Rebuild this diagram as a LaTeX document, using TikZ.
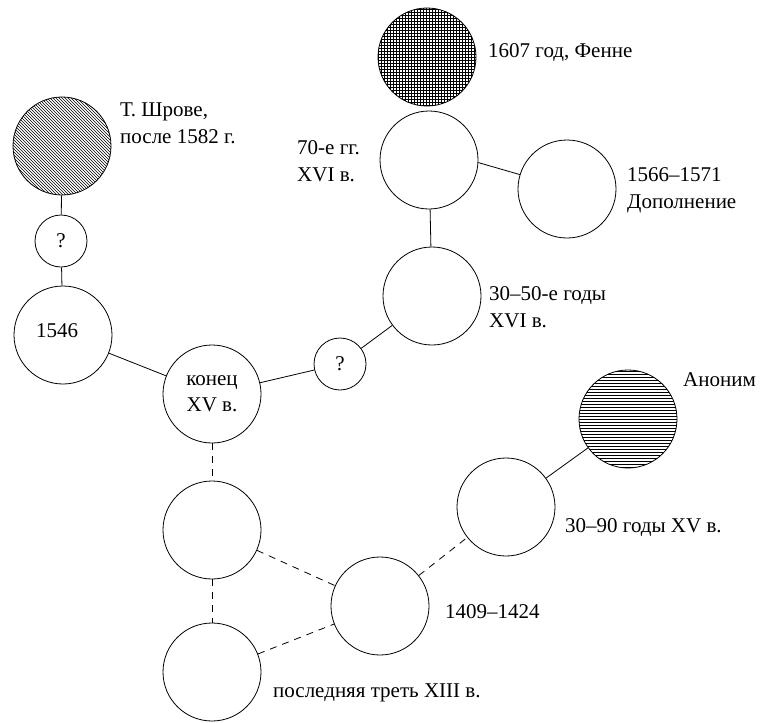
\documentclass[tikz,border=0pt]{standalone}
\usepackage{fontspec}
\setmainfont{Liberation Serif}
\usetikzlibrary{patterns}
\begin{document}
\begin{tikzpicture}[x=1pt,y=-1pt,
  circ/.style={circle,draw,line width=0.8pt,inner sep=0pt,minimum size=98pt,
    font=\fontsize{21}{26}\selectfont,align=center},
  smallc/.style={circle,draw,line width=0.8pt,inner sep=0pt,minimum size=52pt,
    font=\fontsize{21}{26}\selectfont},
  lab/.style={font=\fontsize{21}{27}\selectfont,align=left,inner sep=0pt,anchor=west},
  conn/.style={line width=0.8pt},
  dconn/.style={line width=0.8pt,dash pattern=on 7pt off 6pt}]
\useasboundingbox (0,0) rectangle (764,723);
% circles
\node[circ,pattern=north west lines] (shr) at (62,146) {};
\node[smallc] (q1) at (61,241) {?};
\node[circ] (n1546) at (63,335) {\raisebox{8pt}{1546}\hspace*{12pt}};
\node[circ] (konec) at (212,394) {конец\\XV в.};
\node[smallc] (q2) at (340,364) {?};
\node[circ] (c3050) at (432,296) {};
\node[circ] (c70) at (429,160) {};
\node[circ,pattern=grid] (fenne) at (427,57) {};
\node[circ] (c1566) at (567,189) {};
\node[circ,pattern=horizontal lines] (anon) at (628,419) {};
\node[circ] (c3090) at (506,507) {};
\node[circ] (c1409) at (380,606) {};
\node[circ] (cul) at (212,530) {};
\node[circ] (cll) at (212,672) {};
% labels
\node[lab] (lshr) at (120,123.5) {Т. Шрове,\\после 1582 г.};
\node[lab] (lfenne) at (488,53) {1607 год, Фенне};
\node[lab] (l70) at (297,161) {70-е гг.\\XVI в.};
\node[lab] (l1566) at (627,190) {1566–1571\\Дополнение};
\node[lab] (l3050) at (489,307.5) {30–50-е годы\\XVI в.};
\node[lab] (lanon) at (683,380) {Аноним};
\node[lab] (l3090) at (565,528) {30–90 годы XV в.};
\node[lab] (l1409) at (445,612) {1409–1424};
\node[lab] (lxiii) at (273,693) {последняя треть XIII в.};
% connectors
\draw[conn] (shr) -- (q1);
\draw[conn] (q1) -- (n1546);
\draw[conn] (n1546) -- (konec);
\draw[conn] (konec) -- (q2);
\draw[conn] (q2) -- (c3050);
\draw[conn] (c3050) -- (c70);
\draw[conn] (c70.-3) -- (c1566.163);
\draw[conn] (anon) -- (c3090);
\draw[dconn] (konec) -- (cul);
\draw[dconn] (cul) -- (cll);
\draw[dconn] (cul) -- (c1409);
\draw[dconn] (cll) -- (c1409);
\draw[dconn] (c1409) -- (c3090);
\end{tikzpicture}
\end{document}
